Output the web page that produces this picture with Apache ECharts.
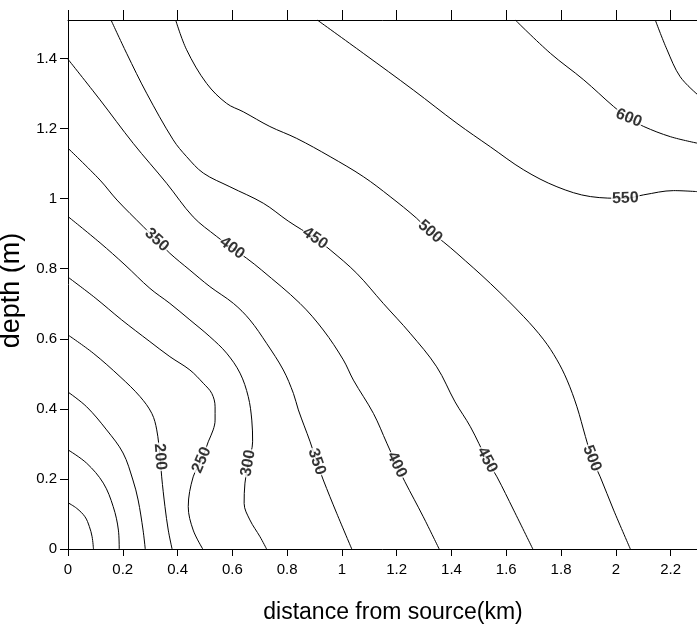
<!DOCTYPE html>
<html>
<head>
<meta charset="utf-8">
<script src="https://cdn.jsdelivr.net/npm/echarts@6/dist/echarts.min.js"></script>
<style>html,body{margin:0;padding:0;background:#fff}#chart{width:697px;height:626px}</style>
</head>
<body>
<div id="chart"></div>
<script>
// ---- data (x = distance from source in km, y = depth in m) ----
const xTicks = [0, 0.2, 0.4, 0.6, 0.8, 1, 1.2, 1.4, 1.6, 1.8, 2, 2.2];
const yTicks = [0, 0.2, 0.4, 0.6, 0.8, 1, 1.2, 1.4];
const levels = [50, 100, 150, 200, 250, 300, 350, 400, 450, 500, 550, 600, 650];

const c50  = [[0,0.132],[0.032,0.116],[0.062,0.092],[0.078,0.064],[0.088,0.035],[0.093,0]];
const c100 = [[0,0.283],[0.068,0.245],[0.129,0.188],[0.165,0.121],[0.184,0.054],[0.187,0]];
const c150 = [[0,0.448],[0.068,0.406],[0.141,0.34],[0.201,0.274],[0.237,0.197],[0.256,0.14],[0.274,0.054],[0.282,0]];
const c200 = [[0,0.611],[0.092,0.559],[0.19,0.492],[0.263,0.435],[0.306,0.387],[0.324,0.34],[0.336,0.263],[0.342,0.206],[0.354,0.121],[0.366,0.054],[0.38,0]];
const c250 = [[0,0.776],[0.099,0.717],[0.196,0.654],[0.299,0.592],[0.372,0.549],[0.445,0.511],[0.494,0.473],[0.525,0.444],[0.537,0.406],[0.537,0.368],[0.53,0.34],[0.512,0.306],[0.488,0.254],[0.457,0.206],[0.439,0.121],[0.457,0.054],[0.492,0]];
const c300 = [[0,0.949],[0.117,0.874],[0.208,0.811],[0.299,0.744],[0.372,0.701],[0.445,0.654],[0.518,0.606],[0.579,0.559],[0.628,0.502],[0.658,0.435],[0.671,0.368],[0.674,0.306],[0.658,0.245],[0.646,0.188],[0.643,0.13],[0.664,0.083],[0.701,0.035],[0.725,0]];
const c350 = [[0,1.144],[0.117,1.053],[0.179,0.996],[0.275,0.92],[0.324,0.882],[0.372,0.844],[0.445,0.796],[0.518,0.749],[0.604,0.701],[0.664,0.654],[0.725,0.587],[0.786,0.511],[0.823,0.444],[0.841,0.397],[0.884,0.306],[0.908,0.249],[0.932,0.197],[0.981,0.102],[1.036,0]];
const c400 = [[0,1.398],[0.117,1.282],[0.238,1.158],[0.36,1.044],[0.457,0.948],[0.543,0.892],[0.599,0.859],[0.652,0.83],[0.707,0.796],[0.847,0.701],[0.932,0.625],[1.005,0.54],[1.042,0.482],[1.115,0.387],[1.164,0.302],[1.2,0.24],[1.23,0.192],[1.297,0.092],[1.355,0]];
const c450 = [[0.157,1.51],[0.214,1.415],[0.287,1.301],[0.384,1.168],[0.433,1.12],[0.494,1.073],[0.591,1.034],[0.713,0.987],[0.804,0.936],[0.902,0.887],[0.957,0.854],[1.054,0.787],[1.151,0.701],[1.249,0.616],[1.346,0.52],[1.413,0.42],[1.469,0.349],[1.53,0.254],[1.566,0.206],[1.627,0.111],[1.697,0]];
const c500 = [[0.393,1.51],[0.433,1.425],[0.506,1.329],[0.579,1.272],[0.64,1.248],[0.737,1.206],[0.835,1.172],[0.957,1.12],[1.078,1.063],[1.176,1.006],[1.273,0.944],[1.322,0.906],[1.37,0.877],[1.42,0.844],[1.542,0.758],[1.664,0.663],[1.737,0.597],[1.785,0.54],[1.822,0.482],[1.858,0.406],[1.889,0.321],[1.913,0.259],[1.943,0.206],[1.992,0.111],[2.053,0]];
const c550 = [[0.91,1.51],[1.078,1.415],[1.261,1.31],[1.42,1.215],[1.542,1.148],[1.664,1.082],[1.785,1.034],[1.907,1.006],[2.035,1.001],[2.102,1.011],[2.211,1.023],[2.3,1.02]];
const c600 = [[1.633,1.51],[1.761,1.415],[1.883,1.339],[1.992,1.263],[2.047,1.23],[2.102,1.206],[2.199,1.177],[2.3,1.158]];
const c650 = [[2.144,1.51],[2.187,1.425],[2.235,1.348],[2.3,1.296]];
const contours = [c50, c100, c150, c200, c250, c300, c350, c400, c450, c500, c550, c600, c650];

// contour labels: text, and the point on the contour where it sits
const labelText = ['200', '250', '300', '350', '400', '450', '500', '350', '400', '450', '500', '550', '600'];
const labelX    = [0.336, 0.488, 0.658, 0.908, 1.2,  1.53,  1.913, 0.324, 0.599, 0.902, 1.322, 2.035, 2.047];
const labelY    = [0.263, 0.254, 0.245, 0.249, 0.24, 0.254, 0.259, 0.882, 0.859, 0.887, 0.906, 1.001, 1.23];
// (style) orientation of each label along its line, degrees
const labelAngle = [-86, 67, 80, -71, -64, -62, -69, -42, -36, -35, -41, 2, -22];

const chart = echarts.init(document.getElementById('chart'), null, {renderer: 'canvas'});
const axisColor = '#000';
const tickFont = {fontFamily: 'Liberation Sans, Arial, sans-serif', fontSize: 15, color: '#000'};

const series = contours.map((pts, i) => ({
  type: 'line', name: String(levels[i]), data: pts, symbol: 'none', smooth: 0.35,
  lineStyle: {color: '#000', width: 1}, silent: true, z: 2
}));
series.push({
  type: 'scatter', z: 5, symbolSize: 1, itemStyle: {color: 'rgba(0,0,0,0)'}, silent: true,
  label: {
    show: true, position: 'inside', color: '#000', fontWeight: 'bold', fontSize: 16,
    fontFamily: 'Liberation Sans, Arial, sans-serif',
    backgroundColor: '#fff', padding: [0, 1]
  },
  data: labelText.map((t, i) => ({
    value: [labelX[i], labelY[i]],
    label: {formatter: t, rotate: labelAngle[i]}
  }))
});

chart.setOption({
  animation: false,
  backgroundColor: '#fff',
  grid: {left: 68, top: 20, width: 630, height: 529, containLabel: false, outerBoundsMode: 'none'},
  xAxis: [{
    type: 'value', position: 'bottom', min: 0, max: 2.3, interval: 0.2,
    splitLine: {show: false},
    axisLine: {show: true, onZero: false, lineStyle: {color: axisColor, width: 1}},
    axisTick: {show: true, length: 7, customValues: xTicks, lineStyle: {color: axisColor}},
    axisLabel: Object.assign({margin: 13, customValues: xTicks}, tickFont),
    name: 'distance from source(km)', nameLocation: 'middle', nameGap: 52,
    nameTextStyle: {fontFamily: 'Liberation Sans, Arial, sans-serif', fontSize: 23, color: '#000', padding: [0, 0, 0, 20]}
  }, {
    type: 'value', position: 'top', min: 0, max: 2.3, interval: 0.2,
    splitLine: {show: false},
    axisLine: {show: true, onZero: false, lineStyle: {color: axisColor, width: 1}},
    axisTick: {show: true, length: 10, customValues: xTicks, lineStyle: {color: axisColor}},
    axisLabel: {show: false}
  }],
  yAxis: [{
    type: 'value', min: 0, max: 1.51, interval: 0.2,
    splitLine: {show: false},
    axisLine: {show: true, onZero: false, lineStyle: {color: axisColor, width: 1}},
    axisTick: {show: true, length: 8, customValues: yTicks, lineStyle: {color: axisColor}},
    axisLabel: Object.assign({margin: 11, customValues: yTicks}, tickFont),
    name: 'depth (m)', nameLocation: 'middle', nameGap: 25,
    nameTextStyle: {fontFamily: 'Liberation Sans, Arial, sans-serif', fontSize: 27, color: '#000', padding: [0, 12, 0, 0]}
  }],
  series: series
});
</script>
</body>
</html>
